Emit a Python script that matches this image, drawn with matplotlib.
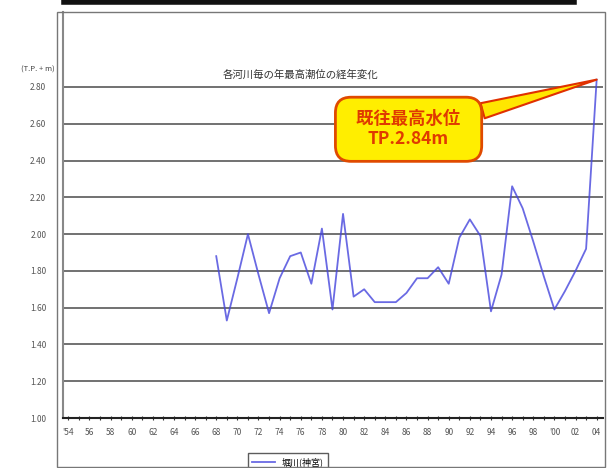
import matplotlib.pyplot as plt
from matplotlib.patches import Rectangle
from matplotlib.lines import Line2D

plt.rcParams['font.family'] = ['Noto Sans CJK JP', 'DejaVu Sans']

# 年最高潮位 (T.P. m), 1968-2004
years = list(range(1968, 2005))
levels = [1.88, 1.53, 1.76, 2.00, 1.78, 1.57, 1.76, 1.88, 1.90, 1.73,
          2.03, 1.59, 2.11, 1.66, 1.70, 1.63, 1.63, 1.63, 1.68, 1.76,
          1.76, 1.82, 1.73, 1.98, 2.08, 1.99, 1.58, 1.78, 2.26, 2.14,
          1.96, 1.77, 1.59, 1.69, 1.80, 1.92, 2.84]
series_name = '堀川(神宮)'
title = '各河川毎の年最高潮位の経年変化'

label_years = list(range(1954, 2005, 2))
year_labels = ["'54"] + ['%02d' % (y % 100) for y in label_years[1:-3]] + ["'00", '02', '04']
y_ticks = [1.00, 1.20, 1.40, 1.60, 1.80, 2.00, 2.20, 2.40, 2.60, 2.80]

record_year = years[-1]
record_level = levels[-1]

fig = plt.figure(figsize=(6.1, 4.68), dpi=100)
ax = fig.add_axes([63 / 610, 50 / 468, 540 / 610, 406 / 468])

ax.plot(years, levels, color='#4545dd', lw=1.3, alpha=0.8, label=series_name)

ax.set_xlim(1953.5, 2004.6)
ax.set_ylim(1.0, 1.0 + 406 / 183.9)
ax.set_yticks(y_ticks)
ax.set_yticklabels(['%.2f' % v for v in y_ticks], fontsize=6, color='#555555')
ax.set_xticks(label_years)
ax.set_xticklabels(year_labels, fontsize=6, color='#555555')
ax.set_xticks(range(1954, 2005), minor=True)
ax.tick_params(axis='x', which='both', direction='inout', length=3, width=0.8, color='#333333', pad=6)
ax.tick_params(axis='y', length=0, pad=12)

for v in y_ticks[1:]:
    ax.axhline(v, color='#666666', lw=1.3, zorder=0)

for s in ['top', 'right']:
    ax.spines[s].set_visible(False)
ax.spines['left'].set_color('#888888')
ax.spines['left'].set_linewidth(1.5)
ax.spines['bottom'].set_color('#222222')
ax.spines['bottom'].set_linewidth(1.5)

ax.text(0.44, 0.845, title, transform=ax.transAxes, ha='center', va='center',
        fontsize=7.5, color='#333333')
fig.text(38 / 610, 1 - 70 / 468, '(T.P. + m)', ha='center', va='center',
         fontsize=5.5, color='#444444')

ax.annotate('  既往最高水位  \nTP.2.84m', xy=(record_year, record_level),
            xytext=(1986.2, 2.57), ha='center', va='center',
            fontsize=12.5, fontweight='bold', color='#e03a00', linespacing=1.15,
            bbox=dict(boxstyle='round,pad=0.75,rounding_size=0.9', fc='#ffee00',
                      ec='#e04a00', lw=2),
            arrowprops=dict(arrowstyle='wedge,tail_width=0.9', fc='#ffe600',
                            ec='#e03000', lw=1.5, relpos=(0.9, 0.8),
                            shrinkA=0, shrinkB=0),
            zorder=5)

leg = ax.legend(loc='center', bbox_to_anchor=(288 / 610, 1 - 462 / 468),
                bbox_transform=fig.transFigure, fontsize=6.5, frameon=True,
                fancybox=False, edgecolor='#333333', handlelength=2.5,
                borderpad=0.5)
leg.get_frame().set_linewidth(1.0)

# chart frame and header bar
fig.patches.append(Rectangle((57 / 610, 1 / 468), 548 / 610, 455 / 468,
                             transform=fig.transFigure, fill=False,
                             ec='#777777', lw=1.0))
fig.add_artist(Line2D([64 / 610, 574 / 610], [1 - 2 / 468, 1 - 2 / 468],
                      transform=fig.transFigure, color='#111111', lw=4))

fig.savefig('out.png', dpi=100)
